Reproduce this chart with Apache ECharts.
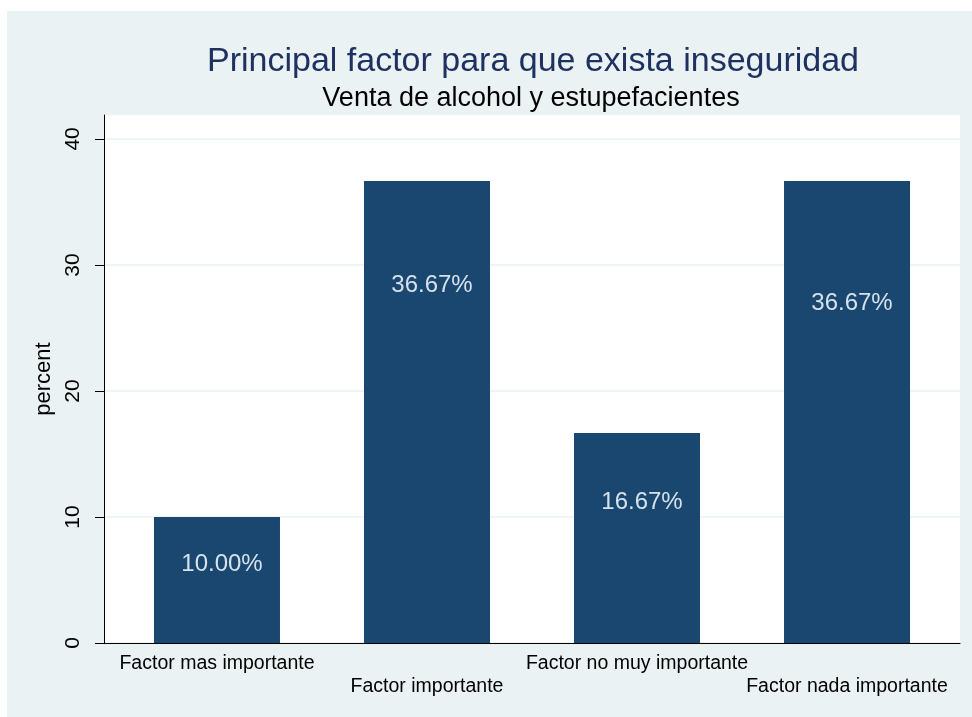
<!DOCTYPE html>
<html>
<head>
<meta charset="utf-8">
<script src="https://cdn.jsdelivr.net/npm/echarts@6/dist/echarts.min.js"></script>
<style>
html,body{margin:0;padding:0;background:#ffffff;}
#chart{width:972px;height:717px;}
</style>
</head>
<body>
<div id="chart"></div>
<script>
// ---- data ----
var categories = ["Factor mas importante", "Factor importante", "Factor no muy importante", "Factor nada importante"];
var percentValues = [10.00, 36.67, 16.67, 36.67];
var yTickValues = [0, 10, 20, 30, 40];
var titleText = "Principal factor para que exista inseguridad";
var subtitleText = "Venta de alcohol y estupefacientes";
var yAxisName = "percent";

// ---- styling (not data) ----
var labelDrop = [42, 99, 64, 117];
var FONT = "Liberation Sans, Arial, sans-serif";

var chart = echarts.init(document.getElementById('chart'), null, {renderer: 'canvas'});

var seriesData = percentValues.map(function (v, i) {
  return {
    value: [i, v],
    label: {
      show: true,
      position: 'insideTop',
      offset: [5, labelDrop[i] - 12],
      formatter: function (p) { return p.value[1].toFixed(2) + '%'; },
      color: '#d6e1ea',
      fontSize: 24,
      fontFamily: FONT
    }
  };
});

var evenIdx = [], oddIdx = [];
categories.forEach(function (c, i) { (i % 2 === 0 ? evenIdx : oddIdx).push(i); });

function xAxisDef(values, margin, showLine) {
  return {
    type: 'value',
    min: -0.538, max: 3.538,
    position: 'bottom',
    axisLine: {show: showLine, onZero: false, lineStyle: {color: '#000000', width: 1}},
    axisTick: {show: false},
    splitLine: {show: false},
    axisLabel: {
      customValues: values,
      showMinLabel: true,
      showMaxLabel: true,
      hideOverlap: false,
      margin: margin,
      fontSize: 19.5,
      color: '#000000',
      fontFamily: FONT,
      formatter: function (v) { return categories[Math.round(v)]; }
    }
  };
}

var option = {
  animation: false,
  backgroundColor: '#ffffff',
  graphic: [
    {type: 'rect', z: -10, silent: true, shape: {x: 7, y: 11, width: 965, height: 706}, style: {fill: '#eaf2f3'}}
  ],
  title: [
    {text: titleText, left: 528, textAlign: 'center', top: 40,
     textStyle: {fontSize: 34, fontWeight: 'normal', color: '#1e3160', fontFamily: FONT}},
    {text: subtitleText, left: 526, textAlign: 'center', top: 80,
     textStyle: {fontSize: 27, fontWeight: 'normal', color: '#000000', fontFamily: FONT}}
  ],
  grid: {left: 104, right: 12, top: 115, bottom: 74, show: true, backgroundColor: '#ffffff', borderWidth: 0},
  xAxis: [xAxisDef(evenIdx, 11, true), xAxisDef(oddIdx, 34, false)],
  yAxis: {
    type: 'value',
    min: 0, max: 41.9,
    name: yAxisName,
    nameLocation: 'middle',
    nameGap: 42,
    nameRotate: 90,
    nameTextStyle: {fontSize: 22, color: '#000000', fontFamily: FONT},
    axisLine: {show: true, onZero: false, lineStyle: {color: '#000000', width: 1}},
    axisTick: {show: true, length: 9, customValues: yTickValues, lineStyle: {color: '#000000'}},
    axisLabel: {customValues: yTickValues, rotate: 90, margin: 20, fontSize: 21, color: '#000000', fontFamily: FONT},
    splitLine: {show: true, lineStyle: {color: '#eaf2f3', width: 1.5}}
  },
  series: [{
    type: 'bar',
    xAxisIndex: 0,
    barWidth: 126,
    itemStyle: {color: '#1a476f'},
    data: seriesData
  }]
};
chart.setOption(option);
</script>
</body>
</html>
